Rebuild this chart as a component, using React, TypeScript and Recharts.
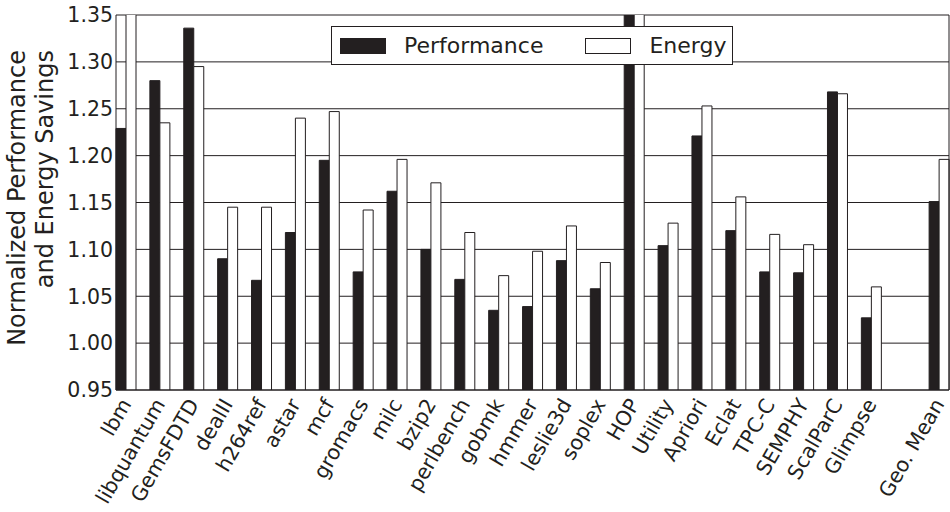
import React from "react";
import { BarChart, Bar, XAxis, YAxis, CartesianGrid } from "recharts";

const benchmarks = [
  "lbm", "libquantum", "GemsFDTD", "dealII", "h264ref", "astar", "mcf", "gromacs",
  "milc", "bzip2", "perlbench", "gobmk", "hmmer", "leslie3d", "soplex", "HOP",
  "Utility", "Apriori", "Eclat", "TPC-C", "SEMPHY", "ScalParC", "Glimpse", "", "Geo. Mean",
];

const performance = [
  1.229, 1.28, 1.336, 1.09, 1.067, 1.118, 1.195, 1.076,
  1.162, 1.1, 1.068, 1.035, 1.039, 1.088, 1.058, 1.45,
  1.104, 1.221, 1.12, 1.076, 1.075, 1.268, 1.027, null, 1.151,
];

const energy = [
  1.4, 1.235, 1.295, 1.145, 1.145, 1.24, 1.247, 1.142,
  1.196, 1.171, 1.118, 1.072, 1.098, 1.125, 1.086, 1.4,
  1.128, 1.253, 1.156, 1.116, 1.105, 1.266, 1.06, null, 1.196,
];

const yTicks = [0.95, 1.0, 1.05, 1.1, 1.15, 1.2, 1.25, 1.3, 1.35];

const series = [
  { key: "performance", label: "Performance", fill: "#231f20" },
  { key: "energy", label: "Energy", fill: "#ffffff" },
];

const data = benchmarks.map((name, i) => ({
  name,
  performance: performance[i],
  energy: energy[i],
}));

const FONT = "'DejaVu Sans', sans-serif";
const INK = "#231f20";

// labels hang off the right edge of each bar pair, rotated 60deg
const BottomTick = (props: any) => {
  const { x, y, payload } = props;
  const ax = x + 6;
  const ay = y + 6;
  return (
    <text
      x={ax}
      y={ay}
      transform={`rotate(-60, ${ax}, ${ay})`}
      textAnchor="end"
      fontSize={20.5}
      fontFamily={FONT}
      fill={INK}
    >
      {payload.value}
    </text>
  );
};

const TopTick = (props: any) => {
  const { x, y } = props;
  return <line x1={x + 10} x2={x + 10} y1={y} y2={y + 4} stroke={INK} strokeWidth={1} />;
};

const YLabel = () => (
  <g fontFamily={FONT} fontSize={24} fill={INK} textAnchor="end">
    <text x={25} y={50} transform="rotate(-90, 25, 50)">Normalized Performance</text>
    <text x={53} y={50} transform="rotate(-90, 53, 50)">and Energy Savings</text>
  </g>
);

export default function App() {
  return (
    <div style={{ position: "absolute", left: 0, top: 0, width: 950, height: 512, background: "#fff" }}>
      <BarChart
        width={950}
        height={512}
        data={data}
        margin={{ top: 15, right: 0, bottom: 0, left: 0 }}
        barGap={0}
        barSize={10}
      >
        <CartesianGrid horizontal vertical={false} stroke={INK} strokeWidth={1} />
        <XAxis
          dataKey="name"
          interval={0}
          height={122}
          padding={{ left: -7, right: -7 }}
          axisLine={{ stroke: INK }}
          tickLine={false}
          tick={<BottomTick />}
        />
        <XAxis
          xAxisId="top"
          orientation="top"
          dataKey="name"
          interval={0}
          height={0}
          padding={{ left: -7, right: -7 }}
          axisLine={{ stroke: INK }}
          tickLine={false}
          tick={<TopTick />}
        />
        <YAxis
          domain={[0.95, 1.35]}
          ticks={yTicks}
          allowDataOverflow
          width={116}
          axisLine={{ stroke: INK }}
          tickLine={false}
          tickSize={0}
          tickMargin={3}
          tickFormatter={(v: number) => v.toFixed(2)}
          tick={{ fontSize: 20.5, fontFamily: FONT, fill: INK }}
          label={<YLabel />}
        />
        <YAxis yAxisId="right" orientation="right" width={1} tick={false} axisLine={{ stroke: INK }} tickLine={false} />
        {series.map((s) => (
          <Bar
            key={s.key}
            dataKey={s.key}
            fill={s.fill}
            stroke={INK}
            strokeWidth={1}
            isAnimationActive={false}
          />
        ))}
      </BarChart>
      <div
        style={{
          position: "absolute",
          left: 331,
          top: 26,
          width: 402,
          height: 39,
          boxSizing: "border-box",
          border: `1px solid ${INK}`,
          background: "#fff",
          fontFamily: FONT,
          fontSize: 22,
          color: INK,
          display: "flex",
          alignItems: "center",
        }}
      >
        {series.map((s, i) => (
          <div key={s.key} style={{ display: "flex", alignItems: "center", marginLeft: i === 0 ? 8 : 42 }}>
            <span
              style={{
                display: "inline-block",
                width: 46,
                height: 16,
                boxSizing: "border-box",
                background: s.fill,
                border: `1px solid ${INK}`,
                marginRight: 18,
              }}
            />
            <span>{s.label}</span>
          </div>
        ))}
      </div>
    </div>
  );
}
